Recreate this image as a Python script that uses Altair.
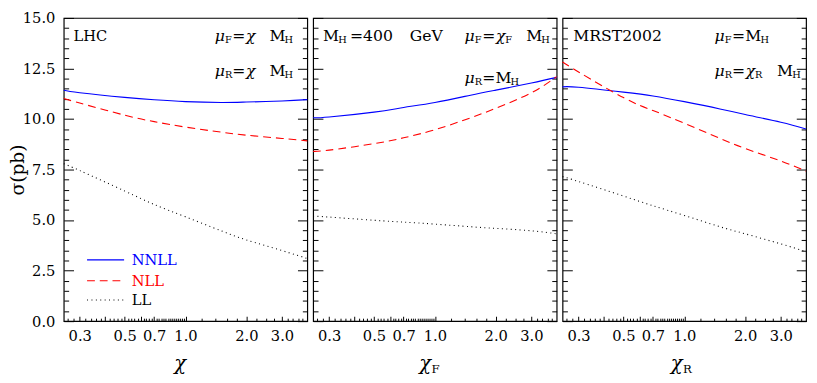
import altair as alt
import pandas as pd

# ---------------- data ----------------
chi = [0.25, 0.3, 0.5, 0.7, 1.0, 1.5, 2.0, 3.0, 4.0]
series_names = ["NNLL", "NLL", "LL"]

lhc_nnll = [11.42, 11.30, 11.07, 10.95, 10.86, 10.82, 10.84, 10.89, 10.96]
lhc_nll = [11.01, 10.79, 10.19, 9.87, 9.60, 9.35, 9.20, 9.04, 8.92]
lhc_ll = [7.79, 7.45, 6.44, 5.77, 5.16, 4.47, 4.02, 3.49, 3.10]

mh_nnll = [10.06, 10.10, 10.34, 10.57, 10.82, 11.18, 11.43, 11.78, 12.06]
mh_nll = [8.40, 8.46, 8.78, 9.07, 9.47, 10.06, 10.53, 11.30, 12.10]
mh_ll = [5.19, 5.15, 4.99, 4.90, 4.80, 4.67, 4.59, 4.47, 4.32]

mrst_nnll = [11.59, 11.57, 11.33, 11.14, 10.86, 10.50, 10.22, 9.84, 9.51]
mrst_nll = [12.82, 12.33, 11.06, 10.42, 9.79, 9.04, 8.54, 7.92, 7.42]
mrst_ll = [7.15, 6.91, 6.19, 5.71, 5.23, 4.67, 4.32, 3.82, 3.44]

# axis ticks / labels
y_major = [0, 2.5, 5, 7.5, 10, 12.5, 15]
y_minor = [0.5, 1, 1.5, 2, 3, 3.5, 4, 4.5, 5.5, 6, 6.5, 7, 8, 8.5, 9, 9.5,
           10.5, 11, 11.5, 12, 13, 13.5, 14, 14.5]
x_labels = [0.3, 0.5, 0.7, 1.0, 2.0, 3.0]
x_major = [0.3, 0.4, 0.5, 0.6, 0.7, 1.0, 2.0, 3.0]
x_minor = [0.26, 0.28, 0.32, 0.34, 0.36, 0.38, 0.42, 0.44, 0.46, 0.48,
           0.52, 0.54, 0.56, 0.58, 0.62, 0.64, 0.66, 0.68, 0.72, 0.74,
           0.76, 0.78, 0.8, 0.82, 0.84, 0.86, 0.88, 0.9, 0.92, 0.94, 0.96,
           0.98, 1.2, 1.4, 1.6, 1.8, 2.25, 2.5, 2.75, 3.2, 3.4, 3.6, 3.8]

# ---------------- styling ----------------
FONT = "DejaVu Serif"
W, H = 249, 310
STY = {
    "NNLL": dict(color="#0000ff"),
    "NLL": dict(color="#ff0000", strokeDash=[8, 5]),
    "LL": dict(color="#000000", strokeDash=[1, 3.5]),
}
TXT_COL = {"NNLL": "#0000ff", "NLL": "#ff0000", "LL": "#000000"}


def XS():
    return alt.Scale(type="log", domain=[0.25, 4.0], nice=False)


def YS():
    return alt.Scale(domain=[0, 15], nice=False)


def text_piece(ax, ay, txt, dx, dy, size, style="normal", color="black",
               align="left", baseline="alphabetic"):
    df = pd.DataFrame({"x": [ax], "y": [ay], "t": [txt]})
    return alt.Chart(df).mark_text(
        align=align, baseline=baseline, dx=dx, dy=dy, font=FONT,
        fontSize=size, fontStyle=style, color=color,
    ).encode(
        x=alt.X("x:Q", scale=XS(), axis=None),
        y=alt.Y("y:Q", scale=YS(), axis=None),
        text="t:N",
    )


def tick_layer(df, channel, orient, values, size):
    ax = alt.Axis(orient=orient, values=values, tickSize=size, offset=-size,
                  labels=False, domain=False, grid=False, ticks=True,
                  tickColor="black", tickWidth=1, title=None)
    base = alt.Chart(df).mark_line(strokeOpacity=0)
    if channel == "y":
        return base.encode(x=alt.X("x:Q", scale=XS(), axis=None),
                           y=alt.Y("y:Q", scale=YS(), axis=ax))
    return base.encode(x=alt.X("x:Q", scale=XS(), axis=ax),
                       y=alt.Y("y:Q", scale=YS(), axis=None))


# annotation groups: (anchor x, anchor y, [(text, dx, dy, size, style)])
ann_lhc = [
    (0.2794, 13.84, [("LHC", 0, 0, 15, "normal")]),
    (1.394, 13.84, [("μ", 0, 0, 16, "italic"), ("F", 10.5, 2, 10, "normal"),
                    ("=", 18, 0, 16, "normal"), ("χ", 32, 0, 16, "italic"),
                    ("M", 56, 0, 16, "normal"), ("H", 71.5, 2, 10, "normal")]),
    (1.394, 12.11, [("μ", 0, 0, 16, "italic"), ("R", 10.5, 2, 10, "normal"),
                    ("=", 18, 0, 16, "normal"), ("χ", 32, 0, 16, "italic"),
                    ("M", 56, 0, 16, "normal"), ("H", 71.5, 2, 10, "normal")]),
]
ann_mh = [
    (0.280, 13.84, [("M", 0, 0, 16, "normal"), ("H", 15.5, 2, 10, "normal"),
                    ("=400", 27.5, 0, 16, "normal"), ("GeV", 88.5, 0, 16, "normal")]),
    (1.402, 13.84, [("μ", 0, 0, 16, "italic"), ("F", 10.5, 2, 10, "normal"),
                    ("=", 18, 0, 16, "normal"), ("χ", 32, 0, 16, "italic"),
                    ("F", 41.5, 2, 10, "normal"), ("M", 63, 0, 16, "normal"),
                    ("H", 78.5, 2, 10, "normal")]),
    (1.402, 11.76, [("μ", 0, 0, 16, "italic"), ("R", 10.5, 2, 10, "normal"),
                    ("=", 18, 0, 16, "normal"), ("M", 31.5, 0, 16, "normal"),
                    ("H", 47, 2, 10, "normal")]),
]
ann_mrst = [
    (0.2825, 13.84, [("MRST2002", 0, 0, 16, "normal")]),
    (1.41, 13.84, [("μ", 0, 0, 16, "italic"), ("F", 10.5, 2, 10, "normal"),
                   ("=", 18, 0, 16, "normal"), ("M", 31.5, 0, 16, "normal"),
                   ("H", 47, 2, 10, "normal")]),
    (1.41, 12.11, [("μ", 0, 0, 16, "italic"), ("R", 10.5, 2, 10, "normal"),
                   ("=", 18, 0, 16, "normal"), ("χ", 32, 0, 16, "italic"),
                   ("R", 41.5, 2, 10, "normal"), ("M", 64, 0, 16, "normal"),
                   ("H", 79.5, 2, 10, "normal")]),
]

# x-axis titles: (anchor x, anchor y, pieces)
xt_lhc = (0.88, -2.42, [("χ", 0, 0, 20, "italic")])
xt_mh = (0.837, -2.42, [("χ", 0, 0, 20, "italic"), ("F", 12.5, 2.5, 12, "normal")])
xt_mrst = (0.858, -2.42, [("χ", 0, 0, 20, "italic"), ("R", 12.5, 2.5, 12, "normal")])

# legend (panel 1)
leg_line_x = [0.326, 0.497]
leg_y = [3.03, 2.0, 1.05]
leg_text_x = 0.542


def panel(vals, ann, xt, first):
    layers = []
    frames = [pd.DataFrame({"x": chi, "y": v}) for v in vals]
    for i, name in enumerate(series_names):
        if i == 0:
            xax = alt.Axis(orient="bottom", values=x_labels, format=".1f",
                           ticks=False, tickSize=0, domain=False, grid=False,
                           labelFont=FONT, labelFontSize=15, labelPadding=8,
                           labelColor="black", labelOverlap=False,
                           labelFlush=False, title=None)
            if first:
                yax = alt.Axis(orient="left", values=y_major, format=".1f",
                               ticks=False, tickSize=0, domain=False,
                               grid=False, labelFont=FONT, labelFontSize=15,
                               labelPadding=9, labelColor="black",
                               labelOverlap=False, title="σ(pb)",
                               titleFont=FONT, titleFontSize=19,
                               titleFontWeight="normal", titleColor="black",
                               titlePadding=-5)
            else:
                yax = None
        else:
            xax = None
            yax = None
        layers.append(
            alt.Chart(frames[i]).mark_line(strokeWidth=1.1, interpolate="natural",
                                           **STY[name]).encode(
                x=alt.X("x:Q", scale=XS(), axis=xax),
                y=alt.Y("y:Q", scale=YS(), axis=yax),
            )
        )
    d0 = frames[0]
    layers += [
        tick_layer(d0, "y", "left", y_major, 10),
        tick_layer(d0, "y", "left", y_minor, 5),
        tick_layer(d0, "y", "right", y_major, 10),
        tick_layer(d0, "y", "right", y_minor, 5),
        tick_layer(d0, "x", "bottom", x_major, 5),
        tick_layer(d0, "x", "bottom", x_minor, 3),
    ]
    for ax_, ay_, pieces in ann + [xt]:
        for (t, dx, dy, sz, st) in pieces:
            layers.append(text_piece(ax_, ay_, t, dx, dy, sz, st))
    if first:
        for name, ly in zip(series_names, leg_y):
            ldf = pd.DataFrame({"x": [leg_line_x[0]], "x2": [leg_line_x[1]], "y": [ly]})
            layers.append(
                alt.Chart(ldf).mark_rule(strokeWidth=1.1, **STY[name]).encode(
                    x=alt.X("x:Q", scale=XS(), axis=None),
                    x2="x2:Q",
                    y=alt.Y("y:Q", scale=YS(), axis=None),
                )
            )
            layers.append(text_piece(leg_text_x, ly, name, 0, 0, 15, "normal",
                                     TXT_COL[name], baseline="middle"))
    return alt.layer(*layers).resolve_axis(x="independent", y="independent").properties(
        width=W, height=H)


p1 = panel([lhc_nnll, lhc_nll, lhc_ll], ann_lhc, xt_lhc, True)
p2 = panel([mh_nnll, mh_nll, mh_ll], ann_mh, xt_mh, False)
p3 = panel([mrst_nnll, mrst_nll, mrst_ll], ann_mrst, xt_mrst, False)

chart = alt.hconcat(p1, p2, p3, spacing=0).properties(
    padding={"left": 0, "right": 0, "top": -2, "bottom": 0},
    background="white",
).configure_view(stroke="black", strokeWidth=1.2)

chart.save("out.html", embed_options={"renderer": "svg", "actions": False})
